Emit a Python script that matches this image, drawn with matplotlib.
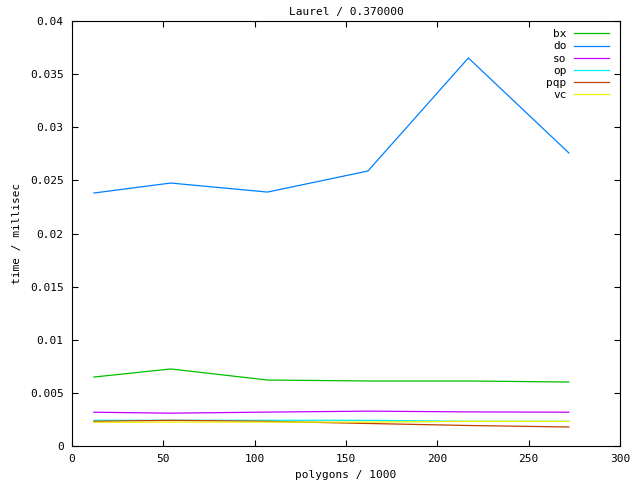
import matplotlib
matplotlib.use("Agg")
import matplotlib.pyplot as plt
from matplotlib.ticker import FuncFormatter, MultipleLocator

# polygons / 1000
polygons = [12, 54, 107, 162, 217, 272]

# time / millisec per method
bx = [0.00649, 0.00725, 0.00621, 0.00612, 0.00612, 0.00602]
do = [0.02381, 0.02475, 0.0239, 0.02588, 0.03652, 0.02758]
so = [0.00318, 0.00309, 0.00319, 0.00328, 0.00321, 0.00318]
op = [0.00242, 0.00242, 0.00242, 0.00242, 0.00232, 0.00232]
pqp = [0.00232, 0.00242, 0.00232, 0.00212, 0.00193, 0.00179]
vc = [0.00223, 0.00225, 0.00225, 0.00225, 0.00232, 0.00232]

series = [("bx", bx, "#00c000"), ("do", do, "#0080ff"), ("so", so, "#c000ff"),
          ("op", op, "#00eeee"), ("pqp", pqp, "#c04000"), ("vc", vc, "#eeee00")]

plt.rcParams['font.family'] = ['DejaVu Sans Mono']
plt.rcParams['font.size'] = 8

fig = plt.figure(figsize=(6.4, 4.8), dpi=100)
ax = fig.add_axes([72 / 640, 34 / 480, 548 / 640, 425 / 480])

for name, vals, col in series:
    ax.plot(polygons, vals, color=col, linewidth=0.9, label=name)

ax.set_xlim(0, 300)
ax.set_ylim(0, 0.04)
ax.xaxis.set_major_locator(MultipleLocator(50))
ax.yaxis.set_major_locator(MultipleLocator(0.005))
ax.yaxis.set_major_formatter(FuncFormatter(lambda v, p: f'{v:g}'))
ax.xaxis.set_major_formatter(FuncFormatter(lambda v, p: f'{v:g}'))
ax.tick_params(direction='in', top=True, right=True, length=4, width=0.8,
               labelsize=8, pad=6)
for s in ax.spines.values():
    s.set_linewidth(0.8)

ax.set_title("Laurel / 0.370000", fontsize=8, pad=4)
ax.set_xlabel("polygons / 1000", fontsize=8, labelpad=4)
ax.set_ylabel("time / millisec", fontsize=8, labelpad=6)

leg = ax.legend(loc='upper right', frameon=False, markerfirst=False,
                handlelength=3.1, labelspacing=0.19, fontsize=8,
                borderaxespad=0.35, handletextpad=0.7,
                bbox_to_anchor=(0.995, 1.0))

fig.savefig("out.png", dpi=100)
